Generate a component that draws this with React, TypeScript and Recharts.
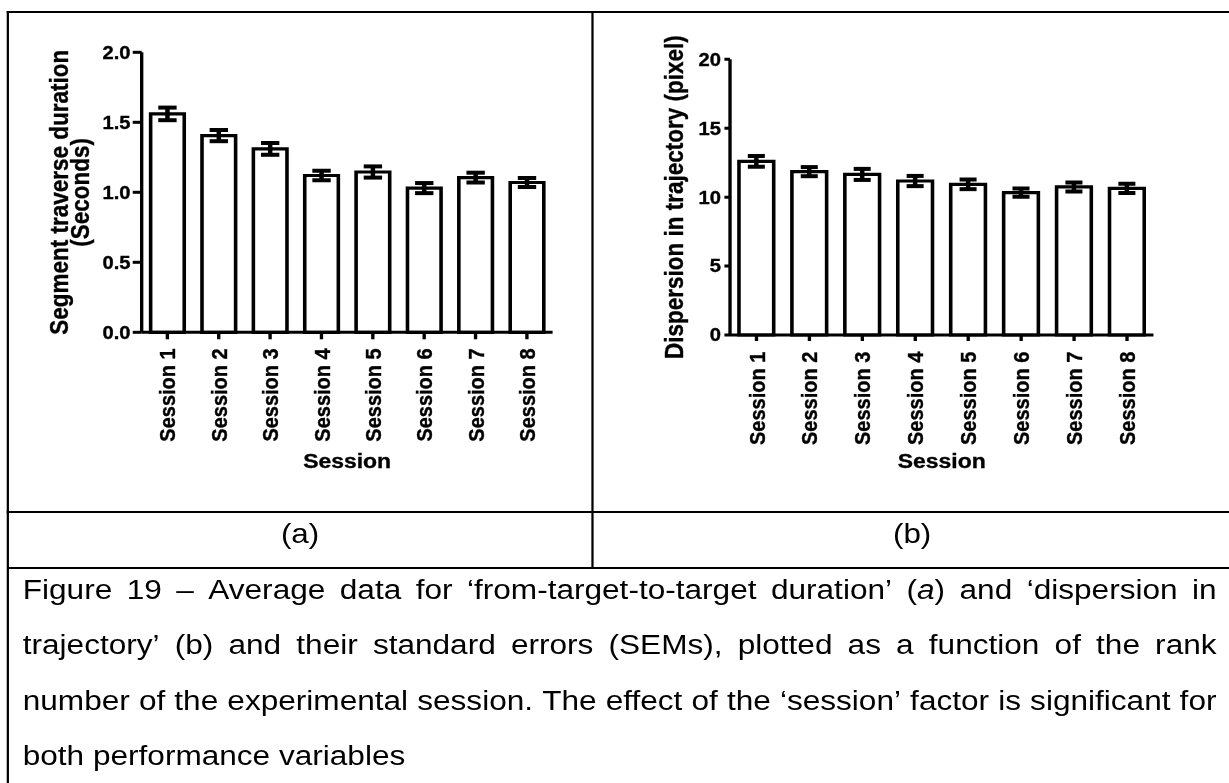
import React from 'react';
import { BarChart, Bar, XAxis, YAxis, ErrorBar } from 'recharts';

// ---------- data ----------
const sessions = ['Session 1', 'Session 2', 'Session 3', 'Session 4', 'Session 5', 'Session 6', 'Session 7', 'Session 8'];
const durationMean = [1.56, 1.405, 1.31, 1.12, 1.145, 1.03, 1.105, 1.07];
const durationSem = [0.045, 0.04, 0.042, 0.034, 0.04, 0.036, 0.035, 0.032];
const dispersionMean = [12.6, 11.85, 11.65, 11.17, 10.93, 10.33, 10.74, 10.64];
const dispersionSem = [0.39, 0.33, 0.4, 0.37, 0.35, 0.3, 0.33, 0.33];
const durationTicks = [0, 0.5, 1, 1.5, 2];
const dispersionTicks = [0, 5, 10, 15, 20];

const durationData = sessions.map((s, i) => ({ session: s, mean: durationMean[i], sem: durationSem[i] }));
const dispersionData = sessions.map((s, i) => ({ session: s, mean: dispersionMean[i], sem: dispersionSem[i] }));

const S = 1.12; // horizontal stretch of the reference
const FONT = '"Liberation Sans", Arial, sans-serif';
const TXT_STROKE = 0.35;

const RotatedTick = (props: any) => {
  const { x, y, payload } = props;
  return (
    <text
      x={x}
      y={y}
      transform={`rotate(-90 ${x} ${y})`}
      textAnchor="end"
      dy="0.36em"
      fontSize={20}
      fontWeight="bold"
      fill="#000"
      stroke="#000"
      strokeWidth={TXT_STROKE}
    >
      {payload.value}
    </text>
  );
};

const yTickStyle = { fontSize: 18, fontWeight: 'bold', fill: '#000', stroke: '#000', strokeWidth: TXT_STROKE } as any;
const axisStroke = { stroke: '#000', strokeWidth: 3 };

const XTitle = (baseline: number) => (props: any) => {
  const vb = props.viewBox || { x: 0, y: 0, width: 0, height: 0 };
  return (
    <text
      x={vb.x + vb.width / 2}
      y={vb.y + baseline}
      textAnchor="middle"
      fontSize={20.5}
      fontWeight="bold"
      fill="#000"
      stroke="#000"
      strokeWidth={TXT_STROKE}
    >
      Session
    </text>
  );
};

const DurationTitle = (props: any) => {
  const vb = props.viewBox || { x: 0, y: 0, width: 0, height: 0 };
  const cy = vb.y + vb.height / 2;
  const x1 = vb.x + 61;
  const x2 = vb.x + 79.2;
  return (
    <g>
      <text x={x1} y={cy} transform={`rotate(-90 ${x1} ${cy})`} textAnchor="middle" fontSize={22.5} fontWeight="bold" fill="#000" stroke="#000" strokeWidth={TXT_STROKE}>
        Segment traverse duration
      </text>
      <text x={x2} y={cy} transform={`rotate(-90 ${x2} ${cy})`} textAnchor="middle" fontSize={22.5} fontWeight="bold" fill="#000" stroke="#000" strokeWidth={TXT_STROKE}>
        (Seconds)
      </text>
    </g>
  );
};

const DispersionTitle = (props: any) => {
  const vb = props.viewBox || { x: 0, y: 0, width: 0, height: 0 };
  const cy = vb.y + vb.height / 2;
  const x1 = vb.x + 80.5;
  return (
    <text x={x1} y={cy} transform={`rotate(-90 ${x1} ${cy})`} textAnchor="middle" fontSize={22.5} fontWeight="bold" fill="#000" stroke="#000" strokeWidth={TXT_STROKE}>
      Dispersion in trajectory (pixel)
    </text>
  );
};

const captionLines: React.ReactNode[][] = [
  ['Figure', '19', '–', 'Average', 'data', 'for', '‘from-target-to-target', 'duration’', <span key="a">(<i>a</i>)</span>, 'and', '‘dispersion', 'in'],
  ['trajectory’', '(b)', 'and', 'their', 'standard', 'errors', '(SEMs),', 'plotted', 'as', 'a', 'function', 'of', 'the', 'rank'],
  ['number', 'of', 'the', 'experimental', 'session.', 'The', 'effect', 'of', 'the', '‘session’', 'factor', 'is', 'significant', 'for'],
];
const lastLine = 'both performance variables';
const baselines = [598.3, 654, 709.5, 765];
const CAP_FS = 28.2;

const line = (left: number, top: number, width: number, height: number) => (
  <div style={{ position: 'absolute', left, top, width, height, background: '#000' }} />
);

export default function App() {
  return (
    <div style={{ position: 'absolute', left: 0, top: 0, width: 1229, height: 783, overflow: 'hidden', background: '#fff' }}>
      <div
        style={{
          position: 'absolute',
          left: 0,
          top: 0,
          width: 1229 / S,
          height: 783,
          transform: `scaleX(${S})`,
          transformOrigin: '0 0',
          fontFamily: FONT,
          color: '#000',
        }}
      >
        {/* table borders */}
        {line(5.8, 11, 1200, 2)}
        {line(5.8, 11, 1.8, 800)}
        {line(528.3, 11, 1.8, 557.7)}
        {line(5.8, 510.7, 1200, 2)}
        {line(5.8, 566.7, 1200, 2)}
        {line(1098, 11, 1.8, 800)}

        {/* chart (a) */}
        <div style={{ position: 'absolute', left: 0, top: 0 }}>
          <BarChart width={529} height={510} data={durationData} margin={{ top: 52.3, right: 35.6, bottom: 27.7, left: 0 }}>
            <XAxis
              dataKey="session"
              height={150}
              interval={0}
              axisLine={axisStroke}
              tickLine={axisStroke}
              tickSize={7}
              tickMargin={9}
              tick={<RotatedTick />}
              label={{ content: XTitle(135.7) } as any}
            />
            <YAxis
              width={126.5}
              domain={[0, 2]}
              ticks={durationTicks}
              interval={0}
              tickFormatter={(v: number) => v.toFixed(1)}
              axisLine={axisStroke}
              tickLine={axisStroke}
              tickSize={8}
              tickMargin={2}
              tick={yTickStyle}
              label={{ content: DurationTitle } as any}
            />
            <Bar dataKey="mean" fill="#fff" stroke="#000" strokeWidth={3.2} barSize={30} isAnimationActive={false}>
              <ErrorBar dataKey="sem" width={8.2} strokeWidth={4} stroke="#000" direction="y" {...({ isAnimationActive: false } as any)} />
            </Bar>
          </BarChart>
        </div>

        {/* chart (b) */}
        <div style={{ position: 'absolute', left: 529, top: 0 }}>
          <BarChart width={570} height={510} data={dispersionData} margin={{ top: 59.3, right: 69.1, bottom: 25, left: 0 }}>
            <XAxis
              dataKey="session"
              height={150}
              interval={0}
              axisLine={axisStroke}
              tickLine={axisStroke}
              tickSize={6}
              tickMargin={10.7}
              tick={<RotatedTick />}
              label={{ content: XTitle(133.3) } as any}
            />
            <YAxis
              width={122.8}
              domain={[0, 20]}
              ticks={dispersionTicks}
              interval={0}
              axisLine={axisStroke}
              tickLine={axisStroke}
              tickSize={5}
              tickMargin={3}
              tick={yTickStyle}
              label={{ content: DispersionTitle } as any}
            />
            <Bar dataKey="mean" fill="#fff" stroke="#000" strokeWidth={3.2} barSize={31} isAnimationActive={false}>
              <ErrorBar dataKey="sem" width={7.6} strokeWidth={4} stroke="#000" direction="y" {...({ isAnimationActive: false } as any)} />
            </Bar>
          </BarChart>
        </div>

        {/* panel labels */}
        <div style={{ position: 'absolute', left: 6.7, top: 543.4 - 23.7, width: 522.5, textAlign: 'center', fontSize: 28, lineHeight: '28px', whiteSpace: 'nowrap' }}>
          (a)
        </div>
        <div style={{ position: 'absolute', left: 530, top: 543.4 - 23.7, width: 568.8, textAlign: 'center', fontSize: 28, lineHeight: '28px', whiteSpace: 'nowrap' }}>
          (b)
        </div>

        {/* caption */}
        {captionLines.map((words, i) => (
          <div
            key={i}
            style={{
              position: 'absolute',
              left: 20.3,
              top: baselines[i] - 23.8,
              width: 1066,
              display: 'flex',
              justifyContent: 'space-between',
              alignItems: 'baseline',
              fontSize: CAP_FS,
              lineHeight: CAP_FS + 'px',
              whiteSpace: 'nowrap',
            }}
          >
            {words.map((w, j) => (
              <span key={j} style={{ flexShrink: 0 }}>
                {w}
              </span>
            ))}
          </div>
        ))}
        <div style={{ position: 'absolute', left: 20.3, top: baselines[3] - 23.8, fontSize: CAP_FS, lineHeight: CAP_FS + 'px', whiteSpace: 'nowrap' }}>
          {lastLine}
        </div>
      </div>
    </div>
  );
}
